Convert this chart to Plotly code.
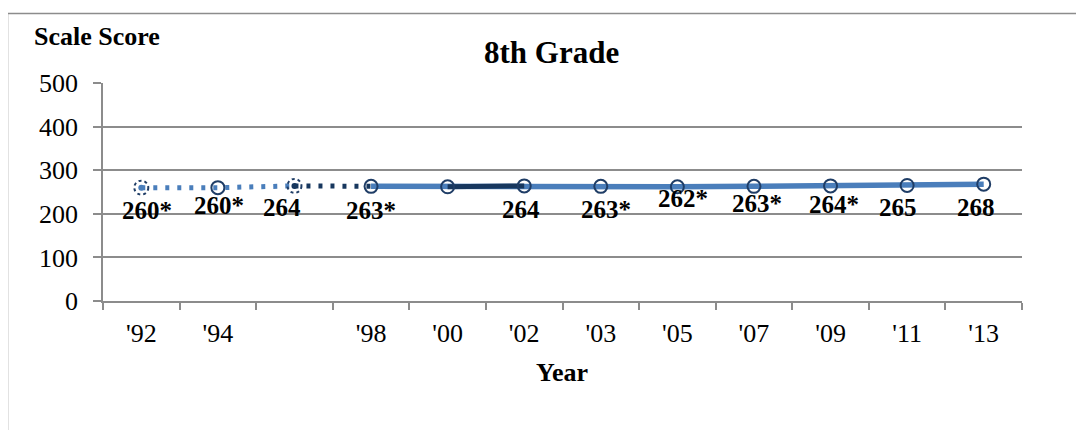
import plotly.graph_objects as go

# ---- data ----
years = ["'92", "'94", "'96", "'98", "'00", "'02", "'03", "'05", "'07", "'09", "'11", "'13"]
tick_labels = ["'92", "'94", "", "'98", "'00", "'02", "'03", "'05", "'07", "'09", "'11", "'13"]
scores = [260, 260, 264, 263, 262, 264, 263, 262, 263, 264, 265, 268]
score_labels = ["260*", "260*", "264", "263*", "", "264", "263*", "262*", "263*", "264*", "265", "268"]

# ---- styles ----
LIGHT = "#4A7EBB"
NAVY = "#1F3D66"
DARK = "#17375E"
GRID = "#8C8C8C"
FONT = "Liberation Serif"
label_dx = [6, 1, -12, 0, 0, -3, 5, 6, 3, 3, -9, -8]
label_dy = [23, 18, 22, 24, 0, 24, 23, 12, 17, 19, 22, 23]

OFF = 8  # default page body margin
W, H = 1084 - 2 * OFF, 438 - 2 * OFF
# plot area in page pixels: left 103, right 1022, top 83, bottom 301
ML, MT = 103 - OFF, 83 - OFF
MR = W - (1022 - OFF)
MB = H - (301 - OFF)
PW, PH = W - ML - MR, H - MT - MB


def px_to_paper_x(px):
    return (px - OFF - ML) / PW


def px_to_paper_y(py):
    return (H - MB - (py - OFF)) / PH


i92, i96, i98, i00, i02 = (years.index(y) for y in ["'92", "'96", "'98", "'00", "'02"])

fig = go.Figure()
dots = "4px,8px"
# light blue dotted '92 -> '96
fig.add_trace(go.Scatter(x=years[i92:i96 + 1], y=scores[i92:i96 + 1], mode="lines",
                         line=dict(color=LIGHT, width=5, dash=dots), hoverinfo="skip"))
# navy dotted '96 -> '98
fig.add_trace(go.Scatter(x=years[i96:i98 + 1], y=scores[i96:i98 + 1], mode="lines",
                         line=dict(color=DARK, width=5, dash=dots), hoverinfo="skip"))
# light blue solid '98 -> '13
fig.add_trace(go.Scatter(x=years[i98:], y=scores[i98:], mode="lines",
                         line=dict(color=LIGHT, width=5.5), hoverinfo="skip"))
# navy solid '00 -> '02
fig.add_trace(go.Scatter(x=years[i00:i02 + 1], y=scores[i00:i02 + 1], mode="lines",
                         line=dict(color=DARK, width=5), hoverinfo="skip"))
# centre dots at dotted markers
fig.add_trace(go.Scatter(x=[years[i92], years[i96]], y=[scores[i92], scores[i96]], mode="markers",
                         marker=dict(size=6, color=[LIGHT, DARK]), hoverinfo="skip"))
# open circle markers
mk_idx = [i for i in range(len(years)) if i not in (i92, i96)]
fig.add_trace(go.Scatter(x=[years[i] for i in mk_idx], y=[scores[i] for i in mk_idx], mode="markers",
                         marker=dict(symbol="circle-open", size=13, color=NAVY, line=dict(width=2, color=NAVY)),
                         hoverinfo="skip"))

# dotted rings
for i in (i92, i96):
    fig.add_shape(type="circle", xref="x", yref="y", xsizemode="pixel", ysizemode="pixel",
                  xanchor=i, yanchor=scores[i], x0=-7, x1=7, y0=-7, y1=7,
                  line=dict(color=NAVY, width=2, dash="dot"))

# data labels
for i, (yr, v, t) in enumerate(zip(years, scores, score_labels)):
    if not t:
        continue
    fig.add_annotation(x=yr, y=v, text="<b>" + t + "</b>", showarrow=False,
                       xanchor="center", yanchor="middle", xshift=label_dx[i], yshift=-label_dy[i],
                       font=dict(family=FONT, size=25, color="black"))

# titles
fig.add_annotation(xref="paper", yref="paper", x=px_to_paper_x(551), y=px_to_paper_y(52),
                   text="<b>8th Grade</b>", showarrow=False, xanchor="center", yanchor="middle",
                   font=dict(family=FONT, size=31, color="black"))
fig.add_annotation(xref="paper", yref="paper", x=px_to_paper_x(32), y=px_to_paper_y(36),
                   text="<b>Scale Score</b>", showarrow=False, xanchor="left", yanchor="middle",
                   font=dict(family=FONT, size=26, color="black"))
fig.add_annotation(xref="paper", yref="paper", x=px_to_paper_x(562), y=px_to_paper_y(372),
                   text="<b>Year</b>", showarrow=False, xanchor="center", yanchor="middle",
                   font=dict(family=FONT, size=26, color="black"))

# outer chart border
fig.add_shape(type="rect", xref="paper", yref="paper",
              x0=px_to_paper_x(7.5), x1=px_to_paper_x(1200), y0=px_to_paper_y(600), y1=px_to_paper_y(13.5),
              line=dict(color=GRID, width=1.5), layer="below")

fig.update_layout(
    width=W, height=H, margin=dict(l=ML, r=MR, t=MT, b=MB),
    paper_bgcolor="white", plot_bgcolor="white", showlegend=False,
    font=dict(family=FONT, size=26, color="black"),
    xaxis=dict(type="category", categoryorder="array", categoryarray=years,
               tickmode="array", tickvals=years, ticktext=tick_labels,
               tickson="boundaries", ticks="outside", ticklen=7, tickcolor=GRID, tickwidth=1.5,
               ticklabelstandoff=8,
               showline=True, linecolor=GRID, linewidth=1.5, showgrid=False,
               range=[-0.5, len(years) - 0.5], tickfont=dict(family=FONT, size=26)),
    yaxis=dict(range=[0, 500], dtick=100, tick0=0, ticks="outside", ticklen=8, tickcolor=GRID, tickwidth=1.5,
               ticklabelstandoff=10,
               showline=True, linecolor=GRID, linewidth=1.5, showgrid=True, gridcolor=GRID, gridwidth=1.5,
               zeroline=False, tickfont=dict(family=FONT, size=26)),
)

fig.write_html("out.html")
